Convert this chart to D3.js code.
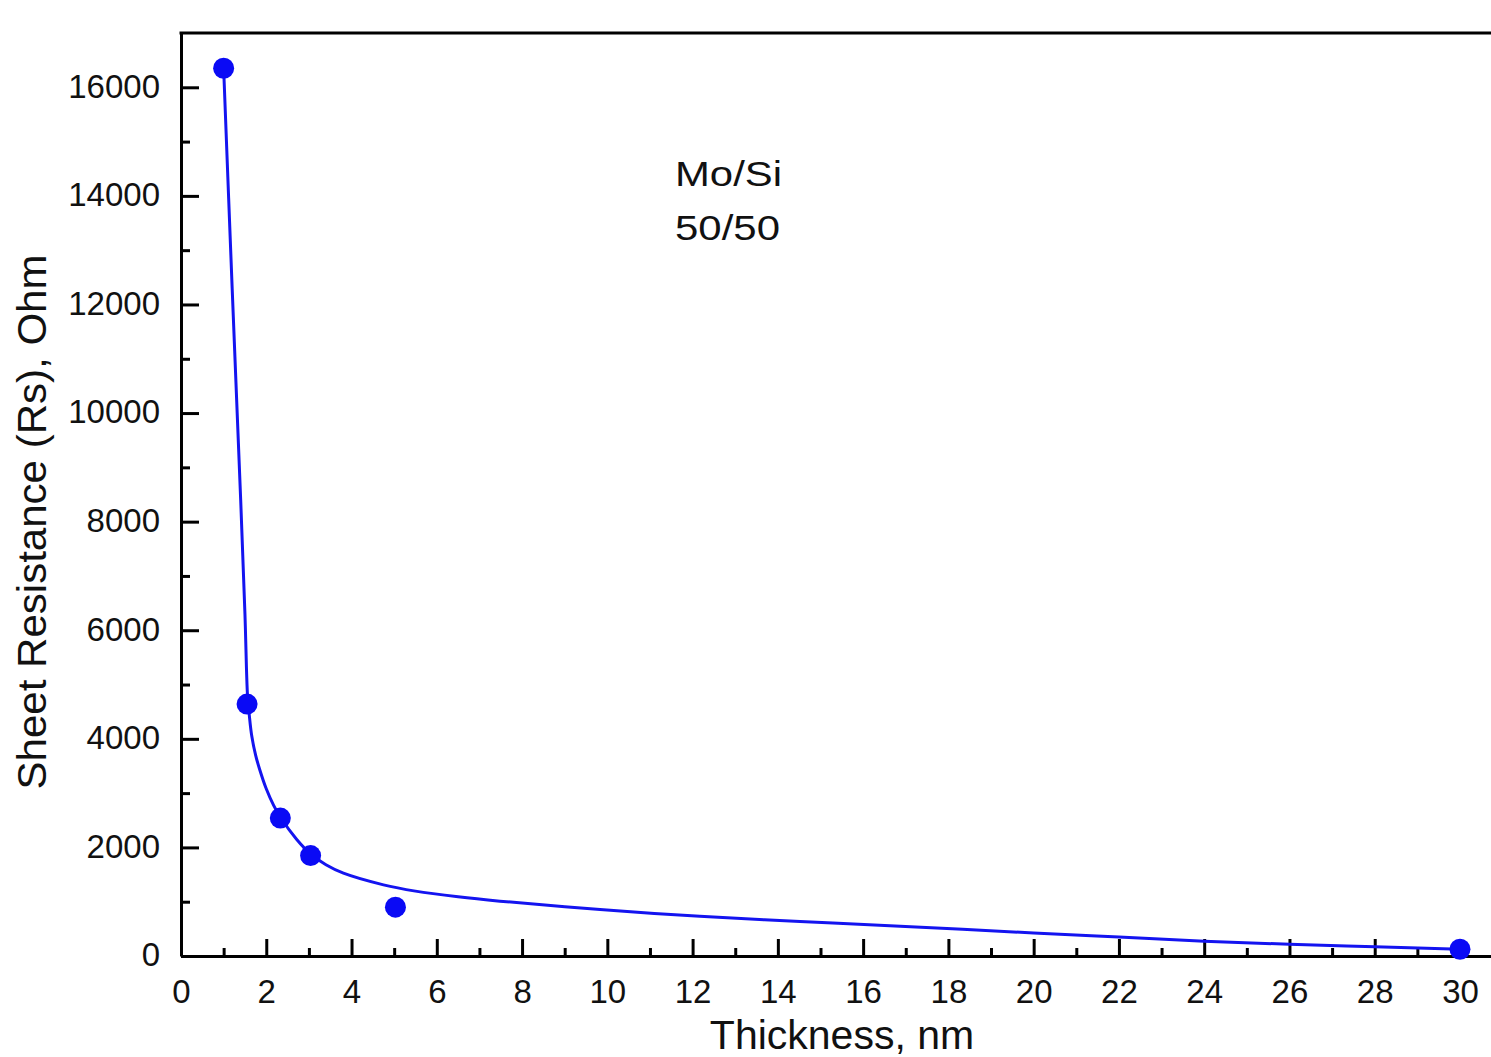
<!DOCTYPE html>
<html>
<head>
<meta charset="utf-8">
<script src="https://cdn.jsdelivr.net/npm/d3@7"></script>
<style>
  body { margin: 0; background: #fff; }
  svg { display: block; font-family: "Liberation Sans", Arial, sans-serif; }
</style>
</head>
<body>
<svg width="1491" height="1057"></svg>
<script>
// measured points
let thickness = [1.0, 1.55, 2.33, 3.04, 5.03, 30];
let resistance = [16350, 4640, 2540, 1850, 900, 125];

// fitted curve
let fitX = [1.0, 1.2, 1.4, 1.5, 1.56, 1.6, 1.66, 1.75, 1.84, 2.0, 2.17, 2.33, 2.71, 3.04, 3.4, 3.81, 4.75, 5.5, 6.5, 7.48, 9.83, 12.17, 14.52, 16.87, 20, 22, 24, 26, 28, 30];
let fitY = [16350, 12300, 8400, 6300, 4800, 4450, 4050, 3700, 3450, 3080, 2780, 2560, 2150, 1880, 1680, 1525, 1310, 1195, 1090, 1010, 855, 730, 635, 548, 425, 350, 272, 215, 170, 125];

let xTicks = d3.range(0, 31, 2);
let yTicks = d3.range(0, 16001, 2000);

let svg = d3.select("svg");
let plotLeft = 181, plotTop = 33, plotBottom = 956;

let x = d3.scaleLinear().domain([0, 31]).range([plotLeft, plotLeft + 31 * 42.633]);
let y = d3.scaleLinear().domain([0, 17000]).range([plotBottom, plotTop]);

//minor ticks
svg.append("g")
  .attr("transform", "translate(0," + plotBottom + ")")
  .call(d3.axisBottom(x).tickValues(d3.range(1, 31, 2)).tickSize(-8).tickSizeOuter(0).tickFormat(""))
  .call(g => g.select(".domain").remove())
  .selectAll("line").attr("stroke-width", 3);

svg.append("g")
  .attr("transform", "translate(" + plotLeft + ",0)")
  .call(d3.axisLeft(y).tickValues(d3.range(1000, 17000, 2000)).tickSize(-9).tickSizeOuter(0).tickFormat(""))
  .call(g => g.select(".domain").remove())
  .selectAll("line").attr("stroke-width", 3);

//major axes
let xAxis = svg.append("g")
  .attr("transform", "translate(0," + plotBottom + ")")
  .call(d3.axisBottom(x).tickValues(xTicks).tickSize(-17).tickSizeOuter(0).tickPadding(24).tickFormat(d3.format("d")));

let yAxis = svg.append("g")
  .attr("transform", "translate(" + plotLeft + ",0)")
  .call(d3.axisLeft(y).tickValues(yTicks).tickSize(-18).tickSizeOuter(0).tickPadding(21).tickFormat(d3.format("d")));

[xAxis, yAxis].forEach(g => {
  g.select(".domain").attr("stroke-width", 3);
  g.selectAll(".tick line").attr("stroke-width", 3);
  g.selectAll(".tick text")
    .attr("font-size", 33)
    .attr("fill", "#111")
    .attr("font-family", "'Liberation Sans', Arial, sans-serif");
});
yAxis.selectAll(".tick text").attr("dy", "0.30em");

//top frame line
svg.append("line")
  .attr("x1", plotLeft - 1.5).attr("x2", 1491)
  .attr("y1", plotTop).attr("y2", plotTop)
  .attr("stroke", "#000").attr("stroke-width", 3);

//fit curve
let line = d3.line()
  .x(d => x(d[0]))
  .y(d => y(d[1]))
  .curve(d3.curveCatmullRom.alpha(0.5));

svg.append("path")
  .datum(fitX.map((v, i) => [v, fitY[i]]))
  .attr("d", line)
  .attr("fill", "none")
  .attr("stroke", "#1414f0")
  .attr("stroke-width", 3);

//points
svg.selectAll("circle")
  .data(thickness)
  .enter()
  .append("circle")
  .attr("cx", d => x(d))
  .attr("cy", (d, i) => y(resistance[i]))
  .attr("r", 10.5)
  .attr("fill", "#0a0af5");

//labels
svg.append("text")
  .attr("x", 842).attr("y", 1049)
  .attr("text-anchor", "middle")
  .attr("font-size", 41)
  .attr("fill", "#111")
  .text("Thickness, nm");

svg.append("text")
  .attr("transform", "translate(46,522) rotate(-90)")
  .attr("text-anchor", "middle")
  .attr("font-size", 40)
  .attr("textLength", 535)
  .attr("lengthAdjust", "spacingAndGlyphs")
  .attr("fill", "#111")
  .text("Sheet Resistance (Rs), Ohm");

svg.append("text")
  .attr("x", 675).attr("y", 186)
  .attr("font-size", 35)
  .attr("textLength", 107)
  .attr("lengthAdjust", "spacingAndGlyphs")
  .attr("fill", "#111")
  .text("Mo/Si");

svg.append("text")
  .attr("x", 675).attr("y", 240)
  .attr("font-size", 35)
  .attr("textLength", 105)
  .attr("lengthAdjust", "spacingAndGlyphs")
  .attr("fill", "#111")
  .text("50/50");
</script>
</body>
</html>
